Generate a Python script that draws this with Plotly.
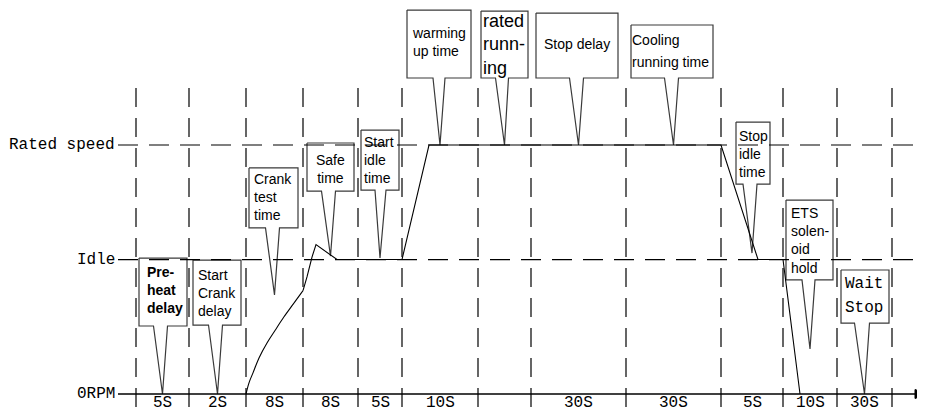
import plotly.graph_objects as go

# ---------------- data ----------------
# speed levels, in percent of rated speed
level_labels = ["0RPM", "Idle", "Rated speed"]
level_values = [0, 54, 100]

# phase boundaries on the schematic time axis (diagram units) and phase durations
phase_edges = [136, 189, 246, 303, 358, 402, 478, 531, 626, 721, 783, 837, 892]
phase_labels = ["5S", "2S", "8S", "8S", "5S", "10S", "", "30S", "30S", "5S", "10S", "30S"]

# speed profile: cranking curve, then the rest of the run
crank_x = [246, 249, 253, 259, 267, 275, 284, 293, 303]
crank_speed = [0, 4.5, 8.5, 14.5, 20.5, 25.5, 31, 36, 41.5]
run_x = [303, 307, 312, 316, 337, 402, 429, 721, 758, 783, 800]
run_speed = [41.5, 47, 55, 60, 54, 54, 100, 100, 54, 54, 0]

# callouts: one per phase, pointing at the phase middle
callout_texts = ["<b>Pre-<br>heat<br>delay</b>", "Start<br>Crank<br>delay", "Crank<br>test<br>time",
                 "Safe<br>time", "Start<br>idle<br>time", "warming<br>up time", "rated<br>runn-<br>ing",
                 "Stop delay", "Cooling", "Stop<br>idle<br>time", "ETS<br>solen-<br>oid<br>hold", "Wait"]
callout_tip_speed = [0, 0, 39.8, 55.4, 54.6, 100, 100, 100, 100, 56.6, 18.1, 0]

# ---------------- layout of the callouts (axis units) ----------------
box_x0 = [139, 193, 249, 307, 361, 407, 481, 536, 631, 736, 786, 841]
box_x1 = [187, 241, 298, 354, 399, 471, 528, 618, 713, 770, 833, 889]
box_top = [54.6, 53.8, 90.8, 100.8, 106.0, 154.2, 153.8, 153.0, 148.2, 109.2, 77.9, 49.8]
box_bot = [27.3, 27.7, 66.7, 81.5, 81.9, 126.9, 126.9, 126.9, 126.9, 84.3, 45.8, 28.5]
tail_left = [9, 9, 9, 9, 5, 7, 9, 9, 9, 9, 8, 10]
tail_right = [5, 5, 5, 5, 6, 5, 4, 5, 5, 5, 5, 5]
text_x = [146, 196.5, 253, 330.5, 363, 410.5, 481.5, 577, 630.5, 737.5, 790, 864]
text_y = [41.6, 40.6, 79.0, 90.4, 94.1, 141.2, 140.5, 140.4, 142.2, 96.4, 61.5, 44.1]
text_anchor = ["left", "left", "left", "center", "left", "left", "left", "center", "left", "left", "left", "center"]
text_size = [14, 14, 14, 14, 14, 14, 18, 14, 14, 14, 14, 16]

# page body has an 8px margin: axis ranges account for that offset
X_MIN, X_MAX = 8, 933
Y_MIN, Y_MAX = -10.04, 155.02
SANS = "Liberation Sans, Arial, sans-serif"
MONO = "Liberation Mono, monospace"
INK = "#000000"
BOX = "#3a3a3a"

mids = [(a + b) / 2 for a, b in zip(phase_edges[:-1], phase_edges[1:])]

fig = go.Figure()

# callout bubbles
for i in range(len(callout_texts)):
    tx = mids[i]
    xs = [box_x0[i], box_x1[i], box_x1[i], tx + tail_right[i], tx, tx - tail_left[i], box_x0[i], box_x0[i]]
    ys = [box_top[i], box_top[i], box_bot[i], box_bot[i], callout_tip_speed[i], box_bot[i], box_bot[i], box_top[i]]
    fig.add_trace(go.Scatter(x=xs, y=ys, mode="lines", fill="toself", fillcolor="white",
                             line=dict(color=BOX, width=1.2), hoverinfo="skip", showlegend=False))

# vertical dashed phase boundaries
for e in phase_edges:
    fig.add_trace(go.Scatter(x=[e, e], y=[122.9, Y_MIN - 1], mode="lines",
                             line=dict(color=INK, width=1.2, dash="19px,11px"),
                             hoverinfo="skip", showlegend=False))

# horizontal dashed speed levels
for v in level_values[1:]:
    fig.add_trace(go.Scatter(x=[118, X_MAX + 5], y=[v, v], mode="lines",
                             line=dict(color=INK, width=1.2, dash="20px,11px"),
                             hoverinfo="skip", showlegend=False))

# time axis with arrow
fig.add_trace(go.Scatter(x=[118, 918], y=[0, 0], mode="lines", line=dict(color=INK, width=1.3),
                         hoverinfo="skip", showlegend=False))
fig.add_trace(go.Scatter(x=[915, 927, 915, 915], y=[1.8, 0, -1.8, 1.8], mode="lines", fill="toself",
                         fillcolor=INK, line=dict(color=INK, width=1), hoverinfo="skip", showlegend=False))

# speed profile
fig.add_trace(go.Scatter(x=crank_x, y=crank_speed, mode="lines", line=dict(color=INK, width=1.1, shape="spline"),
                         hoverinfo="skip", showlegend=False))
fig.add_trace(go.Scatter(x=run_x, y=run_speed, mode="lines", line=dict(color=INK, width=1.1),
                         hoverinfo="skip", showlegend=False))

ann = []
# level labels
for lab, v in zip(level_labels, level_values):
    ann.append(dict(x=116, y=v, text=lab, xanchor="right", yanchor="middle", showarrow=False,
                    font=dict(family=MONO, size=16, color=INK), borderpad=0))
# phase duration labels
for lab, m in zip(phase_labels, mids):
    if lab:
        ann.append(dict(x=m, y=-3.6, text=lab, xanchor="center", yanchor="middle", showarrow=False,
                        font=dict(family=MONO, size=16, color=INK), borderpad=0))
# callout texts
for i, t in enumerate(callout_texts):
    fam = MONO if i == len(callout_texts) - 1 else SANS
    ann.append(dict(x=text_x[i], y=text_y[i], text=t, xanchor=text_anchor[i], yanchor="middle",
                    align=text_anchor[i], showarrow=False, borderpad=0,
                    font=dict(family=fam, size=text_size[i], color=INK)))
# second lines set with wider spacing
ann.append(dict(x=630.5, y=133.3, text="running time", xanchor="left", yanchor="middle", showarrow=False,
                borderpad=0, font=dict(family=SANS, size=14, color=INK)))
ann.append(dict(x=864, y=34.4, text="Stop", xanchor="center", yanchor="middle", showarrow=False,
                borderpad=0, font=dict(family=MONO, size=16, color=INK)))

fig.update_layout(
    width=925, height=411,
    margin=dict(l=0, r=0, t=0, b=0),
    paper_bgcolor="white", plot_bgcolor="white",
    xaxis=dict(range=[X_MIN, X_MAX], visible=False, fixedrange=True),
    yaxis=dict(range=[Y_MIN, Y_MAX], visible=False, fixedrange=True),
    annotations=ann,
    showlegend=False,
)

fig.write_html("out.html")
